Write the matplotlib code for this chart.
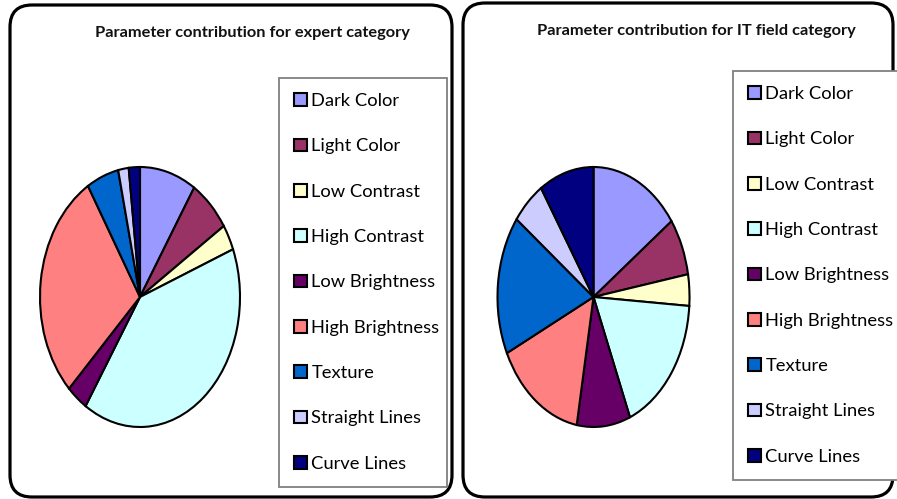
import matplotlib.pyplot as plt
from matplotlib.patches import FancyBboxPatch

# ---------------------------------
# Data (percent of each pie)
# ---------------------------------
labels = ["Dark Color", "Light Color", "Low Contrast", "High Contrast",
          "Low Brightness", "High Brightness", "Texture",
          "Straight Lines", "Curve Lines"]
colors = ["#9999FF", "#993366", "#FFFFCC", "#CCFFFF", "#660066",
          "#FF8080", "#0066CC", "#CCCCFF", "#000080"]
expert_values = [9.1, 6.7, 3.2, 40.1, 3.4, 28.7, 5.2, 1.7, 1.8]
it_values = [15.1, 7.1, 3.9, 17.7, 9.0, 15.1, 17.3, 5.6, 9.2]

titles = ["Parameter contribution for expert category",
          "Parameter contribution for IT field category"]

FONT = "Lato"
W, H = 897, 499

fig = plt.figure(figsize=(W / 100, H / 100), dpi=100)

# background axes in pixel units for the rounded panel boxes
bg = fig.add_axes([0, 0, 1, 1])
bg.set_xlim(0, W)
bg.set_ylim(H, 0)
bg.axis("off")

panels = [(10, 5, 452, 497), (463, 3, 893, 497)]
for x0, y0, x1, y1 in panels:
    bg.add_patch(FancyBboxPatch((x0, y0), x1 - x0, y1 - y0,
                                boxstyle="round,pad=0,rounding_size=22",
                                fc="white", ec="black", lw=2.3))

title_pos = [(252, 33), (696, 31)]
for (tx, ty), t in zip(title_pos, titles):
    bg.text(tx, ty, t, ha="center", va="center", fontsize=11.8,
            fontweight="bold", family=FONT, color="#111111")


def pix_axes(cx, cy, rx, ry):
    return fig.add_axes([(cx - rx) / W, 1 - (cy + ry) / H, 2 * rx / W, 2 * ry / H])


# pie centres / radii in pixels, legend boxes (left, top, width)
pies = [(140, 297, 100, 130), (593.5, 297, 96, 130)]
legends = [(279, 78, 168), (733, 71, 170)]

for values, (cx, cy, rx, ry), (lx, ly, lw) in zip([expert_values, it_values], pies, legends):
    ax = pix_axes(cx, cy, rx, ry)
    wedges, _ = ax.pie(values, colors=colors, startangle=90, counterclock=False,
                       wedgeprops=dict(edgecolor="black", linewidth=1.5))
    ax.set_aspect("auto")
    ax.set_xlim(-1.0, 1.0)
    ax.set_ylim(-1.0, 1.0)

    leg = ax.legend(wedges, labels, loc="upper left",
                    bbox_to_anchor=(lx / W, 1 - ly / H, lw / W, 0),
                    bbox_transform=fig.transFigure, mode="expand",
                    fancybox=False, edgecolor="#808080", framealpha=1,
                    borderpad=0.82, labelspacing=1.6, handlelength=0.7,
                    handleheight=0.7, handletextpad=0.25, borderaxespad=0,
                    prop={"family": FONT, "size": 13.2})
    leg.get_frame().set_linewidth(1.3)

fig.savefig("out.png", dpi=100)
